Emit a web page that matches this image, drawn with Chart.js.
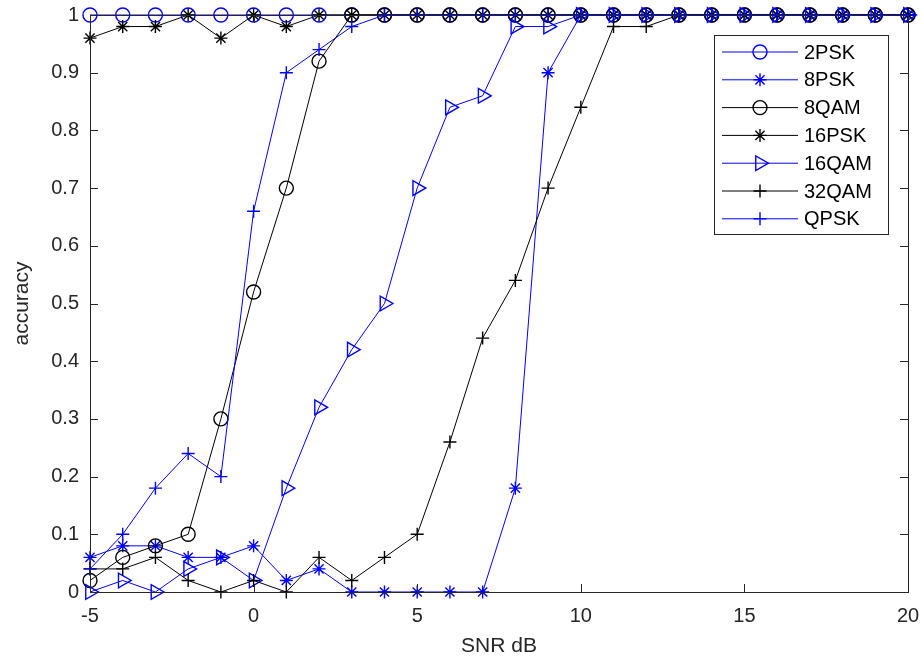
<!DOCTYPE html>
<html>
<head>
<meta charset="utf-8">
<script src="https://cdn.jsdelivr.net/npm/chart.js@4/dist/chart.umd.min.js"></script>
<style>
  body { margin: 0; background: #fff; }
  canvas { display: block; }
</style>
</head>
<body>
<canvas id="accChart" width="923" height="657"></canvas>
<script>
// SNR values (dB) and accuracy per modulation
const snr = [-5, -4, -3, -2, -1, 0, 1, 2, 3, 4, 5, 6, 7, 8, 9, 10, 11, 12, 13, 14, 15, 16, 17, 18, 19, 20];
const acc2PSK  = [1, 1, 1, 1, 1, 1, 1, 1, 1, 1, 1, 1, 1, 1, 1, 1, 1, 1, 1, 1, 1, 1, 1, 1, 1, 1];
const acc8PSK  = [0.06, 0.08, 0.08, 0.06, 0.06, 0.08, 0.02, 0.04, 0, 0, 0, 0, 0, 0.18, 0.9, 1, 1, 1, 1, 1, 1, 1, 1, 1, 1, 1];
const acc8QAM  = [0.02, 0.06, 0.08, 0.1, 0.3, 0.52, 0.7, 0.92, 1, 1, 1, 1, 1, 1, 1, 1, 1, 1, 1, 1, 1, 1, 1, 1, 1, 1];
const acc16PSK = [0.96, 0.98, 0.98, 1, 0.96, 1, 0.98, 1, 1, 1, 1, 1, 1, 1, 1, 1, 1, 1, 1, 1, 1, 1, 1, 1, 1, 1];
const acc16QAM = [0, 0.02, 0, 0.04, 0.06, 0.02, 0.18, 0.32, 0.42, 0.5, 0.7, 0.84, 0.86, 0.98, 0.98, 1, 1, 1, 1, 1, 1, 1, 1, 1, 1, 1];
const acc32QAM = [0.04, 0.04, 0.06, 0.02, 0, 0.02, 0, 0.06, 0.02, 0.06, 0.1, 0.26, 0.44, 0.54, 0.7, 0.84, 0.98, 0.98, 1, 1, 1, 1, 1, 1, 1, 1];
const accQPSK  = [0.04, 0.1, 0.18, 0.24, 0.2, 0.66, 0.9, 0.94, 0.98, 1, 1, 1, 1, 1, 1, 1, 1, 1, 1, 1, 1, 1, 1, 1, 1, 1];

const BLUE = '#0000ff';
const BLACK = '#000000';
const AXIS = '#262626';
const FONT = '"Liberation Sans", Arial, sans-serif';

function series(label, values, color, style, radius, rotation, order) {
    return {
        label: label,
        data: snr.map((x, i) => ({ x: x, y: values[i] })),
        borderColor: color,
        borderWidth: 1,
        pointStyle: style,
        pointRadius: radius,
        pointRotation: rotation,
        pointBorderColor: color,
        pointBackgroundColor: 'rgba(0,0,0,0)',
        pointBorderWidth: 1.4,
        pointHoverRadius: radius,
        fill: false,
        tension: 0,
        clip: false,
        order: order
    };
}

// axes box and inward ticks
function drawBox(chart) {
    const c = chart.ctx;
    const sx = chart.scales.x, sy = chart.scales.y;
    const L = Math.round(sx.getPixelForValue(sx.min));
    const R = Math.round(sx.getPixelForValue(sx.max));
    const T = Math.round(sy.getPixelForValue(sy.max));
    const B = Math.round(sy.getPixelForValue(sy.min));
    const tl = 8;
    c.save();
    c.fillStyle = AXIS;
    c.fillRect(L, T, R - L + 1, 1);
    c.fillRect(L, B, R - L + 1, 1);
    c.fillRect(L, T, 1, B - T + 1);
    c.fillRect(R, T, 1, B - T + 1);
    sx.ticks.forEach(t => {
        const px = Math.round(sx.getPixelForValue(t.value));
        c.fillRect(px, B - tl, 1, tl);
        c.fillRect(px, T, 1, tl);
    });
    sy.ticks.forEach(t => {
        const py = Math.round(sy.getPixelForValue(t.value));
        c.fillRect(L, py, tl, 1);
        c.fillRect(R - tl, py, tl, 1);
    });
    c.restore();
}

function drawLegend(chart) {
    const c = chart.ctx;
    const x0 = 714, y0 = 35, w = 174, h = 199;
    const rowH = 27.8;
    c.save();
    c.fillStyle = '#ffffff';
    c.fillRect(x0, y0, w, h);
    c.strokeStyle = AXIS;
    c.lineWidth = 1;
    c.strokeRect(x0 + 0.5, y0 + 0.5, w, h);
    chart.data.datasets.forEach((ds, i) => {
        const y = y0 + 17 + i * rowH;
        c.strokeStyle = ds.borderColor;
        c.lineWidth = 1;
        c.beginPath();
        c.moveTo(722, y);
        c.lineTo(798, y);
        c.stroke();
        c.lineWidth = ds.pointBorderWidth;
        c.fillStyle = 'rgba(0,0,0,0)';
        Chart.helpers.drawPoint(c, {
            pointStyle: ds.pointStyle,
            radius: ds.pointRadius,
            rotation: ds.pointRotation,
            borderWidth: ds.pointBorderWidth
        }, 760, y);
        c.fillStyle = '#000';
        c.font = '20px ' + FONT;
        c.textBaseline = 'middle';
        c.textAlign = 'left';
        c.fillText(ds.label, 804, y + 1);
    });
    c.restore();
}

const framePlugin = {
    id: 'frame',
    afterDraw(chart) {
        drawLegend(chart);
        drawBox(chart);
    }
};

const accChart = new Chart(document.getElementById('accChart').getContext('2d'), {
    type: 'line',
    data: {
        datasets: [
            series('2PSK', acc2PSK, BLUE, 'circle', 7, 0, 7),
            series('8PSK', acc8PSK, BLUE, 'star', 6.5, 0, 6),
            series('8QAM', acc8QAM, BLACK, 'circle', 7, 0, 5),
            series('16PSK', acc16PSK, BLACK, 'star', 6.5, 0, 4),
            series('16QAM', acc16QAM, BLUE, 'triangle', 8.5, 90, 3),
            series('32QAM', acc32QAM, BLACK, 'cross', 6.5, 0, 2),
            series('QPSK', accQPSK, BLUE, 'cross', 6.5, 0, 1)
        ]
    },
    options: {
        responsive: false,
        animation: false,
        layout: { padding: { top: 15, right: 15, left: 0, bottom: 0 } },
        plugins: {
            legend: { display: false },
            tooltip: { enabled: false }
        },
        scales: {
            x: {
                type: 'linear',
                min: -5,
                max: 20,
                grid: { display: false, drawTicks: false },
                border: { display: true, color: AXIS, width: 1 },
                ticks: { stepSize: 5, color: AXIS, padding: 12, font: { family: FONT, size: 20 } },
                title: { display: true, text: 'SNR dB', color: AXIS, padding: { top: 0, bottom: 0 }, font: { family: FONT, size: 21, lineHeight: 1 } },
                afterFit(scale) {
                    scale.height = 65;
                    scale.paddingLeft = 0;
                    scale.paddingRight = 0;
                }
            },
            y: {
                min: 0,
                max: 1,
                grid: { display: false, drawTicks: false },
                border: { display: true, color: AXIS, width: 1 },
                ticks: {
                    stepSize: 0.1, color: AXIS, padding: 11, font: { family: FONT, size: 20 },
                    callback: v => String(Math.round(v * 10) / 10)
                },
                title: { display: true, text: 'accuracy', color: AXIS, padding: { top: 10, bottom: 0 }, font: { family: FONT, size: 21, lineHeight: 1.2 } },
                afterFit(scale) {
                    scale.width = 90;
                    scale.paddingTop = 0;
                    scale.paddingBottom = 0;
                }
            }
        }
    },
    plugins: [framePlugin]
});
</script>
</body>
</html>
